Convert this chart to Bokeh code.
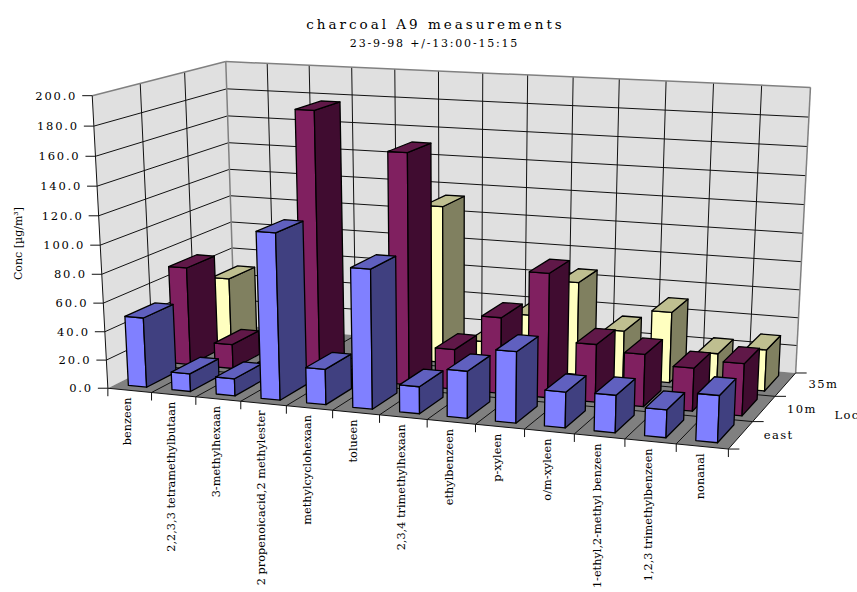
import numpy as np
from bokeh.core.properties import value
from bokeh.document import Document
from bokeh.embed import file_html
from bokeh.models import ColumnDataSource, CustomJS, Range1d
from bokeh.plotting import figure
from bokeh.resources import INLINE

title = "charcoal A9 measurements"
subtitle = "23-9-98 +/-13:00-15:15"
y_title = "Conc [µg/m³]"
z_title = "Location"

categories = [
    "benzeen", "2,2,3,3 tetramethylbutaan", "3-methylhexaan",
    "2 propenoicacid,2 methylester", "methylcyclohexaan", "tolueen",
    "2,3,4 trimethylhexaan", "ethylbenzeen", "p-xyleen", "o/m-xyleen",
    "1-ethyl,2-methyl benzeen", "1,2,3 trimethylbenzeen", "nonanal",
]
series_names = ["east", "10m", "35m"]
value_ticks = [0, 20, 40, 60, 80, 100, 120, 140, 160, 180, 200]

east = [49, 12.5, 12, 114.5, 24.5, 95, 18.5, 32, 48, 24, 25, 18.5, 31]
ten_m = [70.5, 17.5, 6, 186, 4, 161, 28, 53, 86, 40, 36, 29.5, 35.5]
thirty_five_m = [49, 6, 6, 0, 6, 113, 18, 40, 66, 34, 50, 23.5, 29]
series_values = [east, ten_m, thirty_five_m]

FONT = "DejaVu Serif"
N_CAT, N_SER, Y_MAX = len(categories), len(series_names), value_ticks[-1]

# Letter spacing per text group, in pixels
TRACK_TITLE, TRACK_SUB, TRACK_TICK, TRACK_SER = 3.0, 1.8, 1.8, 1.4

# Perspective camera for the box: solved from where its corners land on the page.
corners = [
    ((0, 0, 0), (107, 387)), ((0, 0, 1), (92, 95.5)),
    ((0, 1, 0), (234.5, 325)), ((0, 1, 1), (225, 60.7)),
    ((1, 1, 0), (795, 372)), ((1, 1, 1), (810, 87)),
    ((1, 0, 0), (728, 449)),
]
rows, rhs = [], []
for (a, b, c), (sx, sy) in corners:
    rows.append([a, b, c, 1, 0, 0, 0, 0, -sx * a, -sx * b, -sx * c])
    rows.append([0, 0, 0, 0, a, b, c, 1, -sy * a, -sy * b, -sy * c])
    rhs += [sx, sy]
cam = np.append(np.linalg.lstsq(np.array(rows, float), np.array(rhs, float), rcond=None)[0], 1.0).reshape(3, 4)


def proj(u, v, w):
    """Category position, series position, concentration -> page pixel."""
    q = cam @ np.array([u / N_CAT, v / N_SER, w / Y_MAX, 1.0])
    return q[0] / q[2], q[1] / q[2]


def line(a, b):
    pa, pb = proj(*a), proj(*b)
    return [pa[0], pb[0]], [pa[1], pb[1]]


p = figure(width=857, height=592, output_backend="svg", toolbar_location=None,
           x_range=Range1d(0, 857), y_range=Range1d(592, 0), min_border=0)
p.axis.visible = False
p.grid.visible = False
p.outline_line_color = None
p.background_fill_color = "white"

# Walls and floor
quads = [
    ([(0, 0, 0), (0, 0, Y_MAX), (0, N_SER, Y_MAX), (0, N_SER, 0)], "#E0E0E0"),
    ([(0, N_SER, 0), (0, N_SER, Y_MAX), (N_CAT, N_SER, Y_MAX), (N_CAT, N_SER, 0)], "#E0E0E0"),
    ([(0, 0, 0), (N_CAT, 0, 0), (N_CAT, N_SER, 0), (0, N_SER, 0)], "#808080"),
]
qs = [[proj(*c) for c in q] for q, _ in quads]
p.patches([[c[0] for c in q] for q in qs], [[c[1] for c in q] for q in qs],
          fill_color=[c for _, c in quads], line_color=None)

# Gridlines on walls and floor
gx, gy = [], []
for t in value_ticks[1:-1]:
    for seg in (((0, 0, t), (0, N_SER, t)), ((0, N_SER, t), (N_CAT, N_SER, t))):
        x, y = line(*seg)
        gx.append(x); gy.append(y)
for i in range(1, N_CAT):
    for seg in (((i, N_SER, 0), (i, N_SER, Y_MAX)), ((i, 0, 0), (i, N_SER, 0))):
        x, y = line(*seg)
        gx.append(x); gy.append(y)
for j in range(1, N_SER):
    for seg in (((0, j, 0), (0, j, Y_MAX)), ((0, j, 0), (N_CAT, j, 0))):
        x, y = line(*seg)
        gx.append(x); gy.append(y)
p.multi_line(gx, gy, line_color="#111111", line_width=1)

# Box edges
ex, ey = [], []
for seg in (((0, 0, Y_MAX), (0, N_SER, Y_MAX)), ((0, N_SER, Y_MAX), (N_CAT, N_SER, Y_MAX)),
            ((0, N_SER, 0), (0, N_SER, Y_MAX)), ((N_CAT, N_SER, 0), (N_CAT, N_SER, Y_MAX))):
    x, y = line(*seg)
    ex.append(x); ey.append(y)
p.multi_line(ex, ey, line_color="#808080", line_width=1.5)

ax, ay = [], []
for seg in (((0, 0, 0), (0, 0, Y_MAX)), ((0, 0, 0), (N_CAT, 0, 0)), ((N_CAT, 0, 0), (N_CAT, N_SER, 0))):
    x, y = line(*seg)
    ax.append(x); ay.append(y)
for t in value_ticks:
    sx, sy = proj(0, 0, t)
    ax.append([sx - 10, sx]); ay.append([sy, sy])
for i in range(N_CAT + 1):
    sx, sy = proj(i, 0, 0)
    ax.append([sx, sx]); ay.append([sy, sy + 8])
for j in range(N_SER + 1):
    sx, sy = proj(N_CAT, j, 0)
    ax.append([sx, sx + 11]); ay.append([sy, sy])
p.multi_line(ax, ay, line_color="#111111", line_width=1)

# Bars, painted from the back row forward and left to right
GAP_U, GAP_V = 0.29, 0.17
shades = [
    ("#8080FF", "#404080", "#6060BF"),
    ("#802060", "#400C30", "#601848"),
    ("#FFFFC0", "#808060", "#BFBF90"),
]
bx, by, bc = [], [], []
for s in reversed(range(N_SER)):
    front, side, top = shades[s]
    for c, val in enumerate(series_values[s]):
        if val <= 0:
            continue
        u0, u1 = c + GAP_U, c + 1 - GAP_U
        v0, v1 = s + GAP_V, s + 1 - GAP_V
        for face, col in (
            ([(u0, v0, 0), (u1, v0, 0), (u1, v0, val), (u0, v0, val)], front),
            ([(u1, v0, 0), (u1, v1, 0), (u1, v1, val), (u1, v0, val)], side),
            ([(u0, v0, val), (u1, v0, val), (u1, v1, val), (u0, v1, val)], top),
        ):
            pts = [proj(*f) for f in face]
            bx.append([q[0] for q in pts])
            by.append([q[1] for q in pts])
            bc.append(col)
p.patches(xs="x", ys="y", fill_color="c", line_color="black", line_width=1.3, line_join="round",
          source=ColumnDataSource(dict(x=bx, y=by, c=bc)))

# Texts. Spacing is applied after layout and grows from each text's start,
# so anchors are moved back by the extra width.
font = value(FONT)
INK = "#000000"
p.text([435 - len(title) * TRACK_TITLE / 2], [23], text=[title], text_font=font, text_font_size="13.5px",
       text_align="center", text_baseline="middle", text_color=INK)
p.text([434 - len(subtitle) * TRACK_SUB / 2], [43], text=[subtitle], text_font=font, text_font_size="11px",
       text_align="center", text_baseline="middle", text_color=INK)

tick_labels = [f"{t:.1f}" for t in value_ticks]
tick_xy = [proj(0, 0, t) for t in value_ticks]
p.text([q[0] - 15 - len(s) * TRACK_TICK for q, s in zip(tick_xy, tick_labels)], [q[1] for q in tick_xy],
       text=tick_labels, text_font=font, text_font_size="11.5px", text_align="right",
       text_baseline="middle", text_color=INK)

cat_xy = [proj(i + 0.5, 0, 0) for i in range(N_CAT)]
p.text([q[0] - 2 for q in cat_xy], [q[1] + 7 for q in cat_xy], text=categories, angle=np.pi / 2,
       text_font=font, text_font_size="11.3px", text_align="right", text_baseline="middle",
       text_color=INK)

ser_xy = [proj(N_CAT, j + 0.5, 0) for j in range(N_SER)]
p.text([q[0] + 23 for q in ser_xy], [q[1] for q in ser_xy], text=series_names,
       text_font=font, text_font_size="11.5px", text_align="left", text_baseline="middle",
       text_color=INK)

p.text([18], [243], text=[y_title], angle=np.pi / 2, text_font=font, text_font_size="11px",
       text_align="center", text_baseline="middle", text_color=INK)
p.text([834], [414], text=[z_title], text_font=font, text_font_size="11.5px", text_align="left",
       text_baseline="middle", text_color=INK)

# Tracked-out lettering on the SVG text nodes, which live inside shadow roots
tracking = {title: TRACK_TITLE, subtitle: TRACK_SUB, z_title: TRACK_SER}
tracking.update({s: TRACK_TICK for s in tick_labels})
tracking.update({n: TRACK_SER for n in series_names})
track_js = CustomJS(args=dict(tracking=tracking), code="""
    const map = tracking instanceof Map ? tracking : new Map(Object.entries(tracking));
    const walk = (root) => {
        for (const el of root.querySelectorAll('*')) {
            if (el.shadowRoot) walk(el.shadowRoot);
            if (el.tagName === 'text' && map.has(el.textContent))
                el.style.letterSpacing = map.get(el.textContent) + 'px';
        }
    };
    walk(document);
    for (const ms of [50, 200, 600]) setTimeout(() => walk(document), ms);
""")
doc = Document()
doc.add_root(p)
doc.js_on_event("document_ready", track_js)

open("out.html", "w").write(file_html(p, INLINE))
